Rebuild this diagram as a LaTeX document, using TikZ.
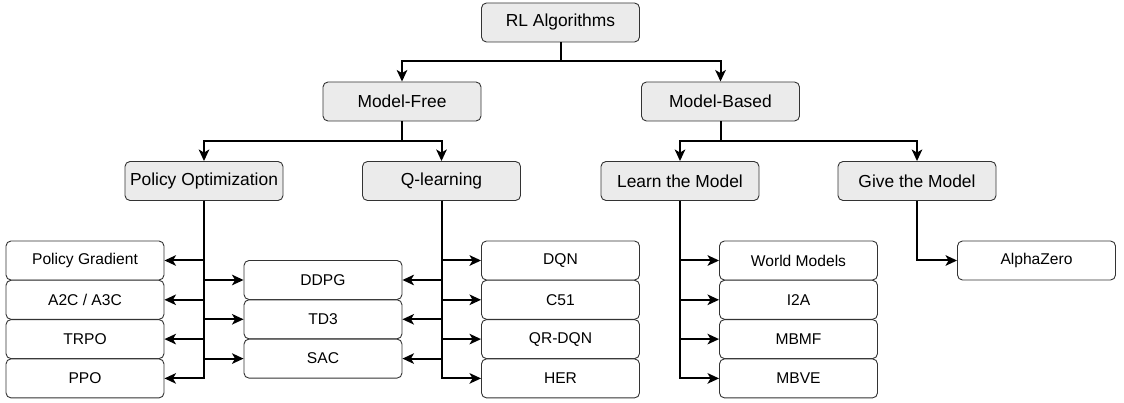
\documentclass[tikz,border=0pt]{standalone}
\usepackage{fontspec}
\setmainfont{Liberation Sans}
\usetikzlibrary{arrows.meta}

\begin{document}
\begin{tikzpicture}[x=1pt,y=-1pt,
  head/.style={draw=black!80, line width=0.9pt, rounded corners=5pt, fill=black!8,
    minimum width=158pt, minimum height=39pt, inner sep=0pt,
    font=\fontsize{17.4}{20}\selectfont},
  leaf/.style={draw=black!80, line width=0.9pt, rounded corners=5pt, fill=white,
    minimum width=158pt, minimum height=39pt, inner sep=0pt,
    font=\fontsize{15.6}{18}\selectfont},
  link/.style={line width=2pt, -{Stealth[length=11.5pt,width=10.5pt,inset=3pt]}}]
\useasboundingbox (0,0) rectangle (1124,403);

\node[head] (rl) at (560.5,22.5) {RL Algorithms};
\node[head] (mf) at (402,101.5) {Model-Free};
\node[head] (mb) at (720.5,101.5) {Model-Based};
\node[head] (po) at (204,181) {Policy Optimization};
\node[head] (ql) at (441.5,181) {Q-learning};
\node[head] (lm) at (680,181) {Learn the Model};
\node[head] (gm) at (917,181) {Give the Model};

\foreach \txt [count=\i] in {Policy Gradient, A2C / A3C, TRPO, PPO}
  \node[leaf] (po\i) at (85,{260.5+39.3*(\i-1)}) {\txt};
\foreach \txt [count=\i] in {DDPG, TD3, SAC}
  \node[leaf] (mid\i) at (323,{280+39.3*(\i-1)}) {\txt};
\foreach \txt [count=\i] in {DQN, C51, QR-DQN, HER}
  \node[leaf] (ql\i) at (560.5,{260.5+39.3*(\i-1)}) {\txt};
\foreach \txt [count=\i] in {World Models, I2A, MBMF, MBVE}
  \node[leaf] (lm\i) at (798.5,{260.5+39.3*(\i-1)}) {\txt};
\node[leaf] (az) at (1036.5,260.5) {AlphaZero};

\draw[link] (rl.south) -- ++(0,18.5) -| (mf);
\draw[link] (rl.south) -- ++(0,18.5) -| (mb);
\draw[link] (mf.south) -- ++(0,19.5) -| (po);
\draw[link] (mf.south) -- ++(0,19.5) -| (ql);
\draw[link] (mb.south) -- ++(0,19.5) -| (lm);
\draw[link] (mb.south) -- ++(0,19.5) -| (gm);

\foreach \i in {1,...,4} {
  \draw[link] (po.south) |- (po\i);
  \draw[link] (ql.south) |- (ql\i);
  \draw[link] (lm.south) |- (lm\i);
}
\foreach \i in {1,...,3} {
  \draw[link] (po.south) |- (mid\i);
  \draw[link] (ql.south) |- (mid\i);
}
\draw[link] (gm.south) |- (az);
\end{tikzpicture}
\end{document}
